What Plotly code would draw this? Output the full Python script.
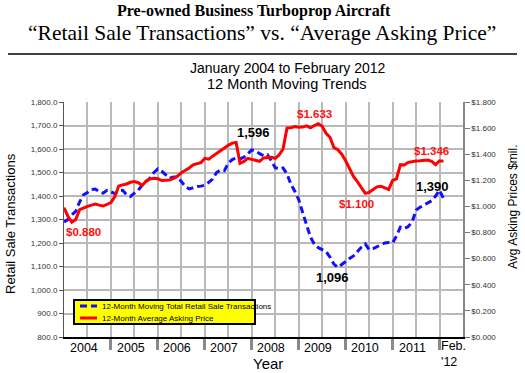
import plotly.graph_objects as go

# ---------------- data (Jan 2004 .. Feb 2012, monthly) ----------------
months = list(range(98))

transactions = [
    1290, 1300, 1320, 1335, 1375, 1405, 1415, 1428, 1430, 1418, 1412, 1424,
    1418, 1410, 1422, 1424, 1405, 1398, 1412, 1425, 1447, 1460, 1476, 1500,
    1515, 1505, 1490, 1476, 1481, 1480, 1462, 1440, 1430, 1436, 1440, 1442,
    1446, 1458, 1472, 1500, 1510, 1508, 1540, 1555, 1562, 1558, 1565, 1580,
    1596, 1592, 1580, 1572, 1576, 1550, 1520, 1515, 1519, 1495, 1450, 1420,
    1385, 1330, 1280, 1225, 1195, 1180, 1172, 1163, 1140, 1110, 1096, 1110,
    1122, 1134, 1145, 1165, 1182, 1196, 1172, 1176, 1185, 1192, 1200, 1202,
    1200, 1230, 1268, 1262, 1270, 1290, 1340, 1352, 1362, 1372, 1380, 1400,
    1425, 1390,
]

asking_price = [
    0.990, 0.925, 0.880, 0.900, 0.975, 0.990, 1.000, 1.010, 1.018, 1.010, 1.003, 1.015,
    1.030, 1.075, 1.157, 1.165, 1.172, 1.185, 1.190, 1.182, 1.160, 1.195, 1.210, 1.215,
    1.212, 1.198, 1.200, 1.203, 1.215, 1.232, 1.258, 1.275, 1.295, 1.318, 1.328, 1.336,
    1.368, 1.362, 1.385, 1.407, 1.425, 1.450, 1.468, 1.485, 1.490, 1.330, 1.345, 1.369,
    1.360, 1.352, 1.345, 1.372, 1.374, 1.376, 1.369, 1.395, 1.440, 1.600, 1.603, 1.612,
    1.606, 1.608, 1.617, 1.603, 1.620, 1.633, 1.614, 1.560, 1.530, 1.450, 1.435, 1.400,
    1.350, 1.290, 1.230, 1.190, 1.140, 1.100, 1.108, 1.128, 1.150, 1.155, 1.140, 1.130,
    1.200, 1.212, 1.320, 1.318, 1.338, 1.345, 1.348, 1.350, 1.352, 1.356, 1.345, 1.320,
    1.350, 1.346,
]

year_labels = ["2004", "2005", "2006", "2007", "2008", "2009", "2010", "2011"]
year_starts = [0, 12, 24, 36, 48, 60, 72, 84]
year_boundaries = [12, 24, 36, 48, 60, 72, 84, 96]
end_label = "Feb.<br>'12"
series_names = ["12-Month Moving Total Retail Sale Transactions",
                "12-Month Average Asking Price"]

# ---------------- layout helpers (pixel -> paper) ----------------
W, H = 525, 373
L, R, T, B = 64, 463, 102, 337


def px(x):
    return (x - L) / (R - L)


def py(y):
    return (B - y) / (B - T)


SANS = "Arial, Liberation Sans, sans-serif"
NARROW = "Liberation Sans Narrow, Arial Narrow, Arial, Liberation Sans, sans-serif"
SERIF = "Times New Roman, Liberation Serif, serif"

BLUE = "#1010ff"
RED = "#ff0000"
BLUE_DASH = "7px,4px"

fig = go.Figure()

fig.add_trace(go.Scatter(
    x=months, y=transactions, mode="lines", name=series_names[0],
    line=dict(color=BLUE, width=3, dash=BLUE_DASH), yaxis="y", showlegend=False,
))
fig.add_trace(go.Scatter(
    x=months, y=asking_price, mode="lines", name=series_names[1],
    line=dict(color=RED, width=3), yaxis="y2", showlegend=False,
))

grid = "#b9b9b9"

fig.update_layout(
    width=W, height=H,
    margin=dict(l=L, r=W - R, t=T, b=H - B, pad=0),
    paper_bgcolor="white", plot_bgcolor="white",
    font=dict(family=SANS, color="black"),
    xaxis=dict(
        range=[0, 102], showline=True, linecolor="black", linewidth=2,
        tickmode="array", tickvals=year_boundaries, showticklabels=False,
        ticks="outside", ticklen=11, tickwidth=3, tickcolor="#8a8a8a",
        showgrid=True, gridcolor=grid, gridwidth=1.5,
        minor=dict(tick0=0, dtick=6, showgrid=True, gridcolor=grid, gridwidth=1.5, ticks=""),
        zeroline=False, fixedrange=True,
    ),
    yaxis=dict(
        range=[800, 1800], dtick=100, tickformat=",.1f",
        ticks="outside", ticklen=4, tickcolor="#555",
        showline=True, linecolor="#555", linewidth=1,
        showgrid=True, gridcolor=grid, gridwidth=1.5,
        tickfont=dict(size=8, family=NARROW, color="#333"),
        zeroline=False,
    ),
    yaxis2=dict(
        range=[0, 1.8], dtick=0.2, tickprefix="$", tickformat=".3f",
        overlaying="y", side="right",
        ticks="outside", ticklen=5, tickcolor="#777",
        showline=True, linecolor="#888", linewidth=1.5,
        showgrid=False, zeroline=False,
        tickfont=dict(size=8, family=NARROW, color="#333"),
    ),
)

ann = []
# titles
ann.append(dict(x=px(254), y=py(11), text="<b>Pre-owned Business Turboprop Aircraft</b>",
                font=dict(family=SERIF, size=16, color="black")))
ann.append(dict(x=px(262), y=py(33),
                text="\u201cRetail Sale Transactions\u201d vs. \u201cAverage Asking Price\u201d",
                font=dict(family=SERIF, size=21.5, color="black")))
ann.append(dict(x=px(288), y=py(68), text="January 2004 to February 2012",
                font=dict(family=SANS, size=14, color="black")))
ann.append(dict(x=px(287), y=py(84), text="12 Month Moving Trends",
                font=dict(family=SANS, size=14.5, color="black")))
# axis titles
ann.append(dict(x=px(10), y=py(224), text="Retail Sale Transactions", textangle=-90,
                font=dict(family=SANS, size=13, color="black")))
ann.append(dict(x=px(513), y=py(207), text="Avg Asking Prices $mil.", textangle=-90,
                font=dict(family=SANS, size=12, color="black")))
ann.append(dict(x=px(268), y=py(363), text="Year",
                font=dict(family=SANS, size=15, color="black")))
# legend texts
ann.append(dict(x=px(100), y=py(306), text=series_names[0], xanchor="left",
                font=dict(family=NARROW, size=8, color="black")))
ann.append(dict(x=px(100), y=py(318), text=series_names[1], xanchor="left",
                font=dict(family=NARROW, size=8, color="black")))
for a in ann:
    a.setdefault("xanchor", "center")
    a.update(xref="paper", yref="paper", showarrow=False, yanchor="middle")

# year labels
for lab, st in zip(year_labels, year_starts):
    ann.append(dict(x=st + 5, y=py(348), xref="x", yref="paper", text=lab, showarrow=False,
                    xanchor="center", yanchor="middle",
                    font=dict(family=SANS, size=12.5, color="black")))
ann.append(dict(x=99.5, y=py(354), xref="x", yref="paper", text=end_label, showarrow=False,
                xanchor="center", yanchor="middle", align="left",
                font=dict(family=SANS, size=12.5, color="black")))


# value call-outs (anchored to data points)
def callout(i, series, yref, text, color, size, xs, ys, xanchor="center"):
    ann.append(dict(x=months[i], y=series[i], xref="x", yref=yref, text="<b>%s</b>" % text,
                    showarrow=False, xanchor=xanchor, yanchor="middle", xshift=xs, yshift=ys,
                    font=dict(family=SANS, size=size, color=color)))


p_min0 = min(range(0, 12), key=lambda k: asking_price[k])
p_max = max(range(len(months)), key=lambda k: asking_price[k])
p_min1 = min(range(p_max, len(months)), key=lambda k: asking_price[k])
p_last = len(months) - 1
t_max = max(range(len(months)), key=lambda k: transactions[k])
t_min = min(range(len(months)), key=lambda k: transactions[k])

LRED = "#ff1010"
ann.append(dict(x=0, y=asking_price[p_min0], xref="x", yref="y2",
                text="<b>$%.3f</b>" % asking_price[p_min0], showarrow=False,
                xanchor="left", yanchor="middle", xshift=0, yshift=-10,
                font=dict(family=SANS, size=11.5, color=LRED)))
callout(p_max, asking_price, "y2", "$%.3f" % asking_price[p_max], LRED, 11.5, -4, 10)
callout(p_min1, asking_price, "y2", "$%.3f" % asking_price[p_min1], LRED, 11.5, -9, -11)
callout(p_last, asking_price, "y2", "$%.3f" % asking_price[p_last], LRED, 11.5, -12, 10)
callout(t_max, transactions, "y", "{:,.0f}".format(transactions[t_max]), "black", 13, 2, 17)
callout(t_min, transactions, "y", "{:,.0f}".format(transactions[t_min]), "black", 13, -5, -10)
callout(p_last, transactions, "y", "{:,.0f}".format(transactions[p_last]), "black", 13, -11, 12)

fig.update_layout(annotations=ann)

# rule under the title
fig.add_shape(type="line", xref="paper", yref="paper",
              x0=px(8), x1=px(517), y0=py(54), y1=py(54),
              line=dict(color="black", width=1.5))

# legend box (drawn) with line samples
fig.add_shape(type="rect", xref="paper", yref="paper",
              x0=px(74), x1=px(255), y0=py(324), y1=py(300),
              fillcolor="#ffff00", line=dict(color="black", width=2), layer="above")
fig.add_shape(type="line", xref="paper", yref="paper",
              x0=px(80), x1=px(97), y0=py(306), y1=py(306),
              line=dict(color=BLUE, width=3, dash=BLUE_DASH), layer="above")
fig.add_shape(type="line", xref="paper", yref="paper",
              x0=px(80), x1=px(97), y0=py(318), y1=py(318),
              line=dict(color=RED, width=3), layer="above")

fig.write_html("out.html", config={"displayModeBar": False},
               post_script="document.body.style.margin='0';document.body.style.overflow='hidden';")
